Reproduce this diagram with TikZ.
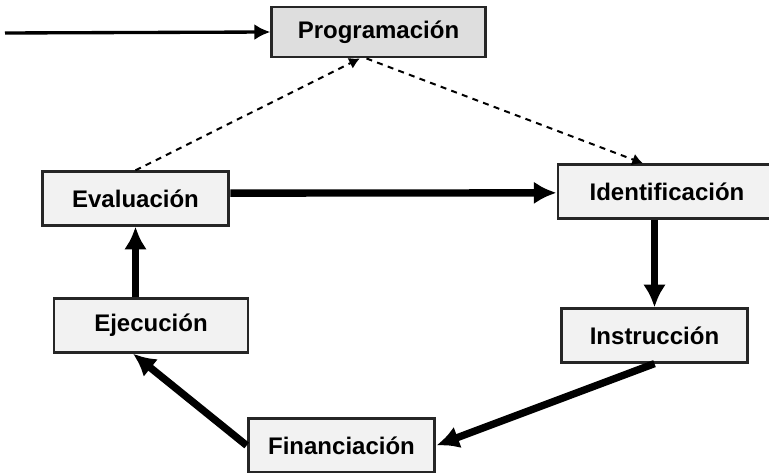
\documentclass[tikz,border=0pt]{standalone}
\usepackage{fontspec}
\setmainfont{Liberation Sans}
\usetikzlibrary{arrows.meta,positioning}

\begin{document}
\begin{tikzpicture}[x=0.75pt,y=-0.75pt,>={Latex[length=17pt,width=17pt]}]
    \tikzset{block/.style={
      draw=black!85,
      line width=2.2pt,
      fill=black!5,
      rectangle,
      align=center,
      font=\bfseries\fontsize{18}{20}\selectfont,
      minimum width=140pt,
      minimum height=40pt
    }};
    \tikzset{flow/.style={line width=5.5pt}};
    \tikzset{link/.style={line width=1.5pt, dash pattern=on 4.5pt off 4pt,
      -{Latex[length=8pt,width=9pt]}}};

    \useasboundingbox (0,0) rectangle (769,473);

    \node [block, fill=black!13, minimum width=160pt, minimum height=37.5pt] (prog) at (378.5,32) {Programación};
    \node [block] (eval) at (135.5,198.5) {Evaluación};
    \node [block, minimum width=145.5pt] (ejec) at (151,325.5) {Ejecución};
    \node [block, minimum width=163.5pt] (ident) at (667,191.5) {Identificación};
    \node [block] (instr) at (654.5,335.5) {Instrucción};
    \node [block] (fin) at (341.5,445.5) {Financiación};

    \coordinate (start) at (5,33);

    \draw [line width=2.5pt, -{Latex[length=12pt,width=12pt]}] (start) -- (prog.west);

    % dashed links to and from the top
    \draw [link] (eval.north) -- ([xshift=-14pt]prog.south);
    \draw [link] ([xshift=-9pt]prog.south) -- ([xshift=-18pt]ident.north);

    % the cycle
    \draw [flow,->] ([yshift=4pt]eval.east) -- ([yshift=-1pt]ident.west);
    \draw [flow,->] (ident.south -| instr.north) -- (instr.north);
    \draw [flow,->] (instr.south) -- (fin.east);
    \draw [flow,->] (fin.west) -- ([xshift=-13.5pt]ejec.south);
    \draw [flow,->] (eval.south |- ejec.north) -- (eval.south);
\end{tikzpicture}
\end{document}
